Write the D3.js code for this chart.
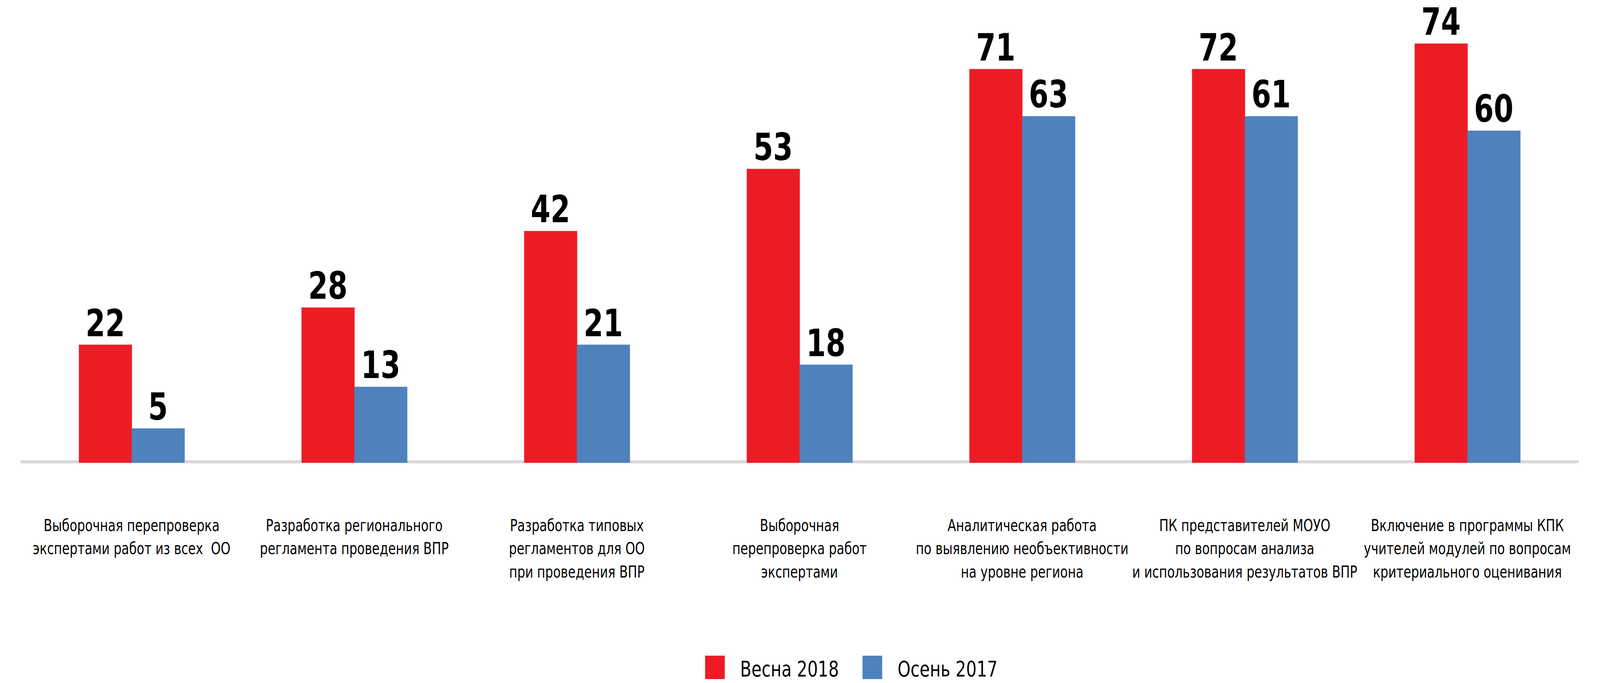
<!DOCTYPE html>
<html>
<head>
<meta charset="utf-8">
<script src="https://cdn.jsdelivr.net/npm/d3@7"></script>
<style>
  html, body { margin: 0; padding: 0; width: 100%; height: 100%; overflow: hidden; background: #fff; }
  svg { display: block; width: 100vw; height: 100vh; }
</style>
</head>
<body>
<!-- the window may be narrower than 4881, so the drawing is stretched to fill it -->
<svg id="chart" viewBox="0 0 4881 1749" preserveAspectRatio="none"></svg>
<script>
// categories, each label broken into its printed lines
let categories = [
    ["Выборочная перепроверка", "экспертами работ из всех  ОО"],
    ["Разработка регионального", "регламента проведения ВПР"],
    ["Разработка типовых", "регламентов для ОО", "при проведения ВПР"],
    ["Выборочная", "перепроверка работ", "экспертами"],
    ["Аналитическая работа", "по выявлению необъективности", "на уровне региона"],
    ["ПК представителей МОУО", "по вопросам анализа", "и использования результатов ВПР"],
    ["Включение в программы КПК", "учителей модулей по вопросам", "критериального оценивания"]
];

let series = ["Весна 2018", "Осень 2017"];

// bar lengths
let spring = [21.3, 28.0, 41.8, 53.0, 71.0, 71.0, 75.6];
let autumn = [6.2, 13.7, 21.3, 17.7, 62.5, 62.5, 59.9];

// numbers printed above the bars
let springLabels = [22, 28, 42, 53, 71, 72, 74];
let autumnLabels = [5, 13, 21, 18, 63, 61, 60];

let colors = ["#ED1C24", "#4F81BD"];

let svg = d3.select("#chart");

let x0 = d3.scaleBand()
    .domain(d3.range(categories.length))
    .range([62, 4816])
    .paddingInner(0.526)
    .paddingOuter(0.263);

let x1 = d3.scaleBand()
    .domain(series)
    .range([0, x0.bandwidth()]);

let y = d3.scaleLinear()
    .domain([0, 80])
    .range([1185, 49]);

let color = d3.scaleOrdinal().domain(series).range(colors);

// baseline (axis with no ticks)
let xAxis = d3.axisBottom(x0).tickSize(0).tickSizeOuter(0).tickFormat("");
let axisG = svg.append("g")
    .attr("transform", "translate(0," + (y(0) - 3) + ")")
    .call(xAxis);
axisG.select(".domain")
    .attr("stroke", "#d9d9d9")
    .attr("stroke-width", 8);

let rows = categories.map(function (c, i) {
    return [
        { key: series[0], value: spring[i], label: springLabels[i] },
        { key: series[1], value: autumn[i], label: autumnLabels[i] }
    ];
});

let groups = svg.append("g")
    .selectAll("g")
    .data(rows)
    .join("g")
    .attr("transform", function (d, i) { return "translate(" + x0(i) + ",0)"; });

groups.selectAll("rect")
    .data(function (d) { return d; })
    .join("rect")
    .attr("x", function (d) { return x1(d.key); })
    .attr("y", function (d) { return y(d.value); })
    .attr("width", x1.bandwidth() + 1)
    .attr("height", function (d) { return y(0) - y(d.value); })
    .attr("fill", function (d) { return color(d.key); });

// value labels
groups.selectAll("text")
    .data(function (d) { return d; })
    .join("text")
    .attr("x", function (d) { return x1(d.key) + x1.bandwidth() / 2; })
    .attr("y", function (d) { return y(d.value) - 22; })
    .attr("text-anchor", "middle")
    .style("font-family", "'DejaVu Sans Condensed', 'DejaVu Sans', sans-serif")
    .style("font-weight", "bold")
    .style("font-size", "96px")
    .attr("fill", "#000")
    .text(function (d) { return d.label; });

// category labels under the baseline
let catG = svg.append("g");
categories.forEach(function (lines, i) {
    let t = catG.append("text")
        .attr("text-anchor", "middle")
        .style("font-family", "'DejaVu Sans Condensed', 'DejaVu Sans', sans-serif")
        .style("font-size", "42px")
        .attr("fill", "#000");
    lines.forEach(function (line, j) {
        t.append("tspan")
            .attr("x", x0(i) + x0.bandwidth() / 2)
            .attr("y", 1360 + j * 59.5)
            .attr("xml:space", "preserve")
            .text(line);
    });
});

// legend
let legend = svg.append("g").attr("transform", "translate(2151,1679)");
let lx = 0;
series.forEach(function (s) {
    legend.append("rect")
        .attr("x", lx)
        .attr("y", 0)
        .attr("width", 60)
        .attr("height", 60)
        .attr("fill", color(s));
    let txt = legend.append("text")
        .attr("x", lx + 107)
        .attr("y", 53)
        .style("font-family", "'DejaVu Sans Condensed', 'DejaVu Sans', sans-serif")
        .style("font-size", "56px")
        .attr("fill", "#000")
        .text(s);
    lx = lx + 107 + txt.node().getComputedTextLength() + 72;
});
</script>
</body>
</html>
